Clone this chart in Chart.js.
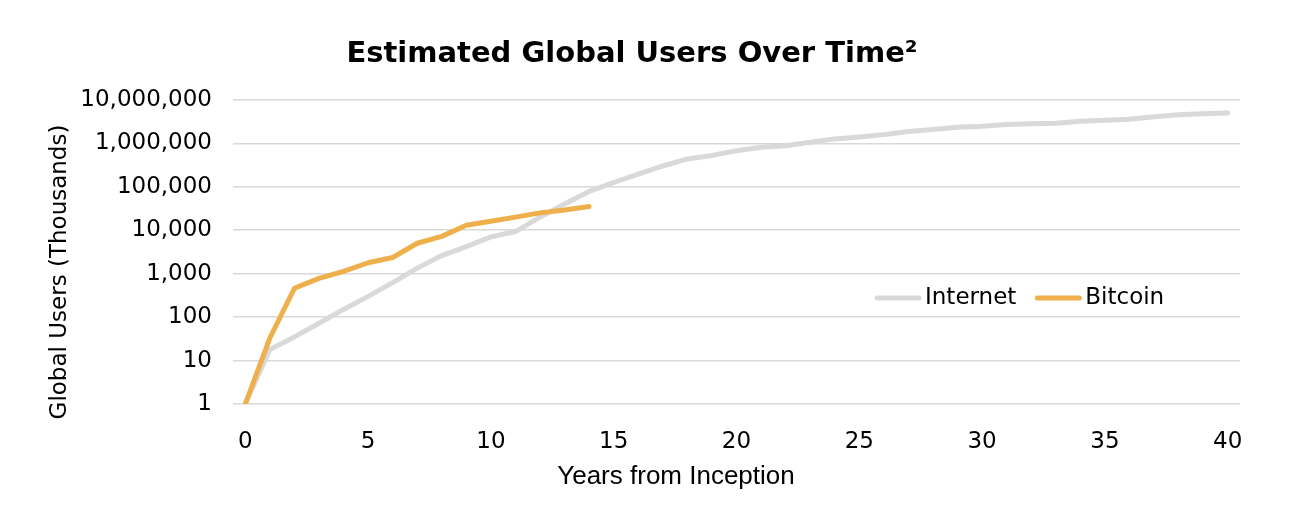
<!DOCTYPE html>
<html><head><meta charset="utf-8">
<script src="https://cdn.jsdelivr.net/npm/chart.js@4.4.1/dist/chart.umd.min.js"></script>
<style>html,body{margin:0;padding:0;background:#fff;}#wrap{width:1292px;height:526px;position:relative;}</style>
</head><body><div id="wrap"><canvas id="c" width="1292" height="526"></canvas></div>
<script>
const years = [0,1,2,3,4,5,6,7,8,9,10,11,12,13,14,15,16,17,18,19,20,21,22,23,24,25,26,27,28,29,30,31,32,33,34,35,36,37,38,39,40];
const internetUsers = [1,18,35,72,150,300,620,1340,2600,4200,7000,9300,20000,40000,78000,125000,195000,300000,435000,525000,675000,805000,875000,1060000,1260000,1400000,1580000,1870000,2080000,2330000,2450000,2700000,2800000,2900000,3200000,3370000,3550000,4050000,4550000,4800000,5000000];
const bitcoinUsers = [1,33,460,780,1130,1780,2350,5000,7200,13000,16000,20000,25000,29000,35000];
const xTickValues = [0,5,10,15,20,25,30,35,40];
const yTickValues = [1,10,100,1000,10000,100000,1000000,10000000];
const seriesNames = ['Internet','Bitcoin'];
const seriesColors = ['#d9d9d9','#efaf4b'];
const chartTitle = 'Estimated Global Users Over Time²';
const xTitle = 'Years from Inception';
const yTitle = 'Global Users (Thousands)';

const FONT = "'DejaVu Sans'";

const extraText = {
  id: 'extraText',
  afterDraw(chart) {
    const ctx = chart.ctx;
    // x axis title
    ctx.save();
    ctx.font = "26px 'Liberation Sans'";
    ctx.fillStyle = '#000';
    ctx.textAlign = 'center';
    ctx.textBaseline = 'middle';
    ctx.fillText(xTitle, 676, 477);
    ctx.restore();
    // y axis title
    ctx.save();
    ctx.font = "23px " + FONT;
    ctx.fillStyle = '#000';
    ctx.textAlign = 'center';
    ctx.textBaseline = 'middle';
    ctx.translate(60, 272);
    ctx.rotate(-Math.PI / 2);
    ctx.fillText(yTitle, 0, 0);
    ctx.restore();
    // legend
    ctx.save();
    ctx.font = "23px " + FONT;
    ctx.textBaseline = 'middle';
    ctx.textAlign = 'left';
    let x = 875;
    const y = 298;
    seriesNames.forEach((name, i) => {
      ctx.strokeStyle = seriesColors[i];
      ctx.lineWidth = 5;
      ctx.lineCap = 'round';
      ctx.beginPath();
      ctx.moveTo(x + 2, y);
      ctx.lineTo(x + 44, y);
      ctx.stroke();
      ctx.fillStyle = '#000';
      ctx.fillText(name, x + 50, y);
      x += 50 + ctx.measureText(name).width + 19;
    });
    ctx.restore();
  }
};

new Chart(document.getElementById('c'), {
  type: 'line',
  data: {
    datasets: [
      { label: seriesNames[0], data: years.map((yr, i) => ({x: yr, y: internetUsers[i]})), borderColor: seriesColors[0], order: 1 },
      { label: seriesNames[1], data: years.slice(0, bitcoinUsers.length).map((yr, i) => ({x: yr, y: bitcoinUsers[i]})), borderColor: seriesColors[1], order: 0 }
    ]
  },
  options: {
    responsive: false,
    devicePixelRatio: 1,
    animation: false,
    layout: { padding: { left: 24, right: 52, top: 0, bottom: 0 } },
    elements: {
      point: { radius: 0, hoverRadius: 0 },
      line: { borderWidth: 5, tension: 0, fill: false, borderCapStyle: 'round', borderJoinStyle: 'round' }
    },
    datasets: { line: { clip: { left: 6, right: 6, top: 6, bottom: 0 } } },
    plugins: {
      legend: { display: false },
      tooltip: { enabled: false },
      title: {
        display: true, text: chartTitle, color: '#000',
        font: { family: FONT, weight: 'bold', size: 29 },
        padding: { top: 37, bottom: 28 }
      }
    },
    scales: {
      x: {
        type: 'linear', min: -0.5, max: 40.5,
        afterBuildTicks: s => { s.ticks = xTickValues.map(v => ({ value: v })); },
        afterFit: s => { s.height = 122; },
        grid: { display: false, drawTicks: false },
        border: { display: false },
        ticks: { color: '#000', font: { family: FONT, size: 23 }, padding: 24, maxRotation: 0, minRotation: 0, autoSkip: false }
      },
      y: {
        type: 'logarithmic', min: 1, max: 10000000,
        afterBuildTicks: s => { s.ticks = yTickValues.map(v => ({ value: v })); },
        afterFit: s => { s.width = 209; },
        grid: { color: '#d9d9d9', lineWidth: 1.5, drawTicks: false },
        border: { display: false },
        ticks: { color: '#000', font: { family: FONT, size: 23 }, padding: 21, callback: v => Number(v).toLocaleString('en-US') }
      }
    }
  },
  plugins: [extraText]
});
</script></body></html>
